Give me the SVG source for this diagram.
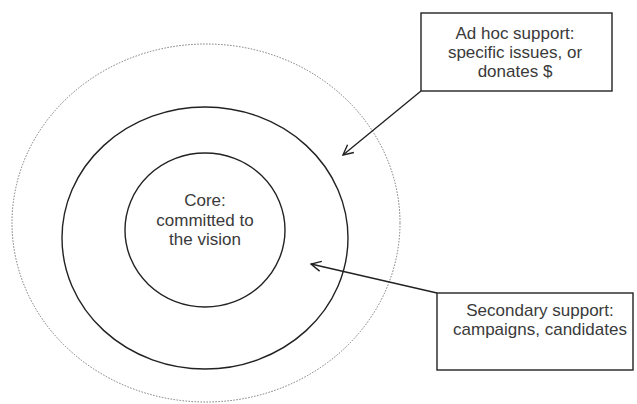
<svg xmlns="http://www.w3.org/2000/svg" width="637" height="404" viewBox="0 0 637 404">
<style>
  text { font-family: "Liberation Sans", Arial, sans-serif; font-size: 17px; fill: #3a3a3a; text-anchor: middle; }
  .ring { fill: none; stroke: #222; stroke-width: 1.4; }
  .dotted { fill: none; stroke: #777; stroke-width: 1; stroke-dasharray: 1.5 1.5; }
  .box { fill: #fff; stroke: #222; stroke-width: 1.4; }
  .conn { fill: none; stroke: #222; stroke-width: 1.4; marker-end: url(#open); }
</style>
<defs>
  <marker id="open" viewBox="0 0 12 12" refX="11" refY="6" markerWidth="12" markerHeight="12" markerUnits="userSpaceOnUse" orient="auto">
    <path d="M1,1 L11,6 L1,11" fill="none" stroke="#222" stroke-width="1.4"/>
  </marker>
</defs>
<rect width="637" height="404" fill="#fff"/>
<g id="outer"><ellipse class="dotted" cx="206" cy="223" rx="194" ry="179"/></g>
<g id="secondary"><ellipse class="ring" cx="205" cy="238" rx="143" ry="131"/></g>
<g id="core">
  <ellipse class="ring" cx="205" cy="230" rx="80" ry="77"/>
  <text x="205" y="206">Core:</text>
  <text x="205" y="226">committed to</text>
  <text x="205" y="245">the vision</text>
</g>
<g id="connectors">
  <line class="conn" x1="421" y1="91" x2="343" y2="155"/>
  <line class="conn" x1="437" y1="293" x2="311" y2="264"/>
</g>
<g id="adhoc">
  <rect class="box" x="421" y="13" width="191" height="78"/>
  <text x="515" y="39">Ad hoc support:</text>
  <text x="515" y="58">specific issues, or</text>
  <text x="515" y="77">donates $</text>
</g>
<g id="secondary-label">
  <rect class="box" x="437" y="293" width="196" height="77"/>
  <text x="540" y="316">Secondary support:</text>
  <text x="540" y="335">campaigns, candidates</text>
</g>
</svg>
